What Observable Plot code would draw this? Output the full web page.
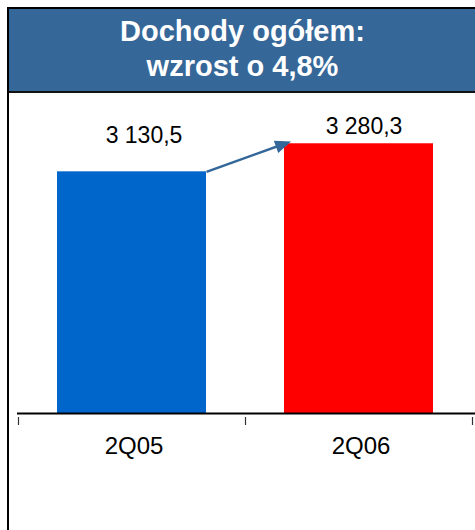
<!DOCTYPE html>
<html><head><meta charset="utf-8">
<script src="https://cdn.jsdelivr.net/npm/d3@7"></script>
<script src="https://cdn.jsdelivr.net/npm/@observablehq/plot@0.6"></script>
<style>
html,body{margin:0;padding:0;background:#fff;overflow:hidden;width:475px;height:530px;}
#frame{position:absolute;left:7px;top:7px;width:480px;height:540px;border-left:2px solid #000;border-top:2px solid #000;z-index:3;pointer-events:none;}
#title{position:absolute;left:9px;top:9px;width:467px;height:84px;box-sizing:border-box;background:#366799;border-bottom:2px solid #111;color:#fff;font:bold 29px "Liberation Sans",Arial,sans-serif;line-height:35px;text-align:center;padding-top:5px;z-index:2;}
#chart{position:absolute;left:0;top:94px;z-index:1;}
</style>
</head><body>
<div id="frame"></div>
<div id="title"></div>
<div id="chart"></div>
<script>
const titleLines = ["Dochody ogółem:", "wzrost o 4,8%"];
const categories = ["2Q05", "2Q06"];
const values = [3130.5, 3280.3];
const barColors = ["#0066CC", "#FF0000"];

document.getElementById("title").innerHTML = titleLines.join("<br>");

const fmt = d3.formatLocale({decimal: ",", thousands: "\u00a0", grouping: [3], currency: ["", ""]}).format(",.1f");
const data = categories.map((c, i) => ({category: c, value: values[i], color: barColors[i], index: i}));

const W = 475, mL = 18, mR = 3;
const yMin = 1840, yMax = 3490;
const barInset = 39;
const step = (W - mL - mR) / categories.length;
const f = barInset / step;
const font = "'Liberation Sans', Arial, sans-serif";

const arrowData = [{from: data[0], to: data[1]}];

const plot = Plot.plot({
  width: W, height: 436,
  marginLeft: mL, marginRight: mR, marginTop: 10, marginBottom: 117,
  x: {type: "linear", domain: [0, categories.length], axis: null},
  y: {domain: [yMin, yMax], axis: null},
  style: {background: "transparent", fontFamily: font, color: "#000", overflow: "visible"},
  marks: [
    Plot.rectY(data, {x1: d => d.index, x2: d => d.index + 1, y1: yMin, y2: "value", fill: "color", insetLeft: barInset, insetRight: barInset}),
    Plot.ruleY([yMin], {stroke: "#000", strokeWidth: 2, insetLeft: -1, insetRight: -4}),
    Plot.axisX({ticks: d3.range(categories.length + 1), tickSize: 8, tickFormat: () => "", dy: 4, stroke: "#333", strokeWidth: 1.2}),
    Plot.text([data[0]], {x: d => d.index + 0.5, y: "value", text: d => fmt(d.value), lineAnchor: "bottom", dy: -29, dx: 12, fontSize: 23, fill: "#000"}),
    Plot.text([data[1]], {x: d => d.index + 0.5, y: "value", text: d => fmt(d.value), lineAnchor: "bottom", dy: -10, dx: 5, fontSize: 23, fill: "#000"}),
    Plot.text(data, {x: d => d.index + 0.5, frameAnchor: "bottom", text: "category", lineAnchor: "bottom", dy: 40, dx: 2, fontSize: 24, fill: "#000"}),
    Plot.link(arrowData, {x1: d => d.from.index + 1 - f, y1: d => d.from.value, x2: d => d.to.index + f, y2: d => d.to.value, stroke: "#336699", strokeWidth: 2.5})
  ]
});

const svg = d3.select(plot);
const defs = svg.insert("defs", ":first-child");
defs.append("marker").attr("id", "arrowhead")
  .attr("viewBox", "-10 -8 20 16").attr("markerWidth", 20).attr("markerHeight", 16)
  .attr("markerUnits", "userSpaceOnUse").attr("orient", "auto").attr("refX", 0).attr("refY", 0)
  .append("path").attr("d", "M-9,-6.5L7,0L-9,6.5Z").attr("fill", "#336699");
svg.selectAll('g[aria-label="link"] path').attr("marker-end", "url(#arrowhead)");

document.getElementById("chart").appendChild(plot);
</script>
</body></html>
